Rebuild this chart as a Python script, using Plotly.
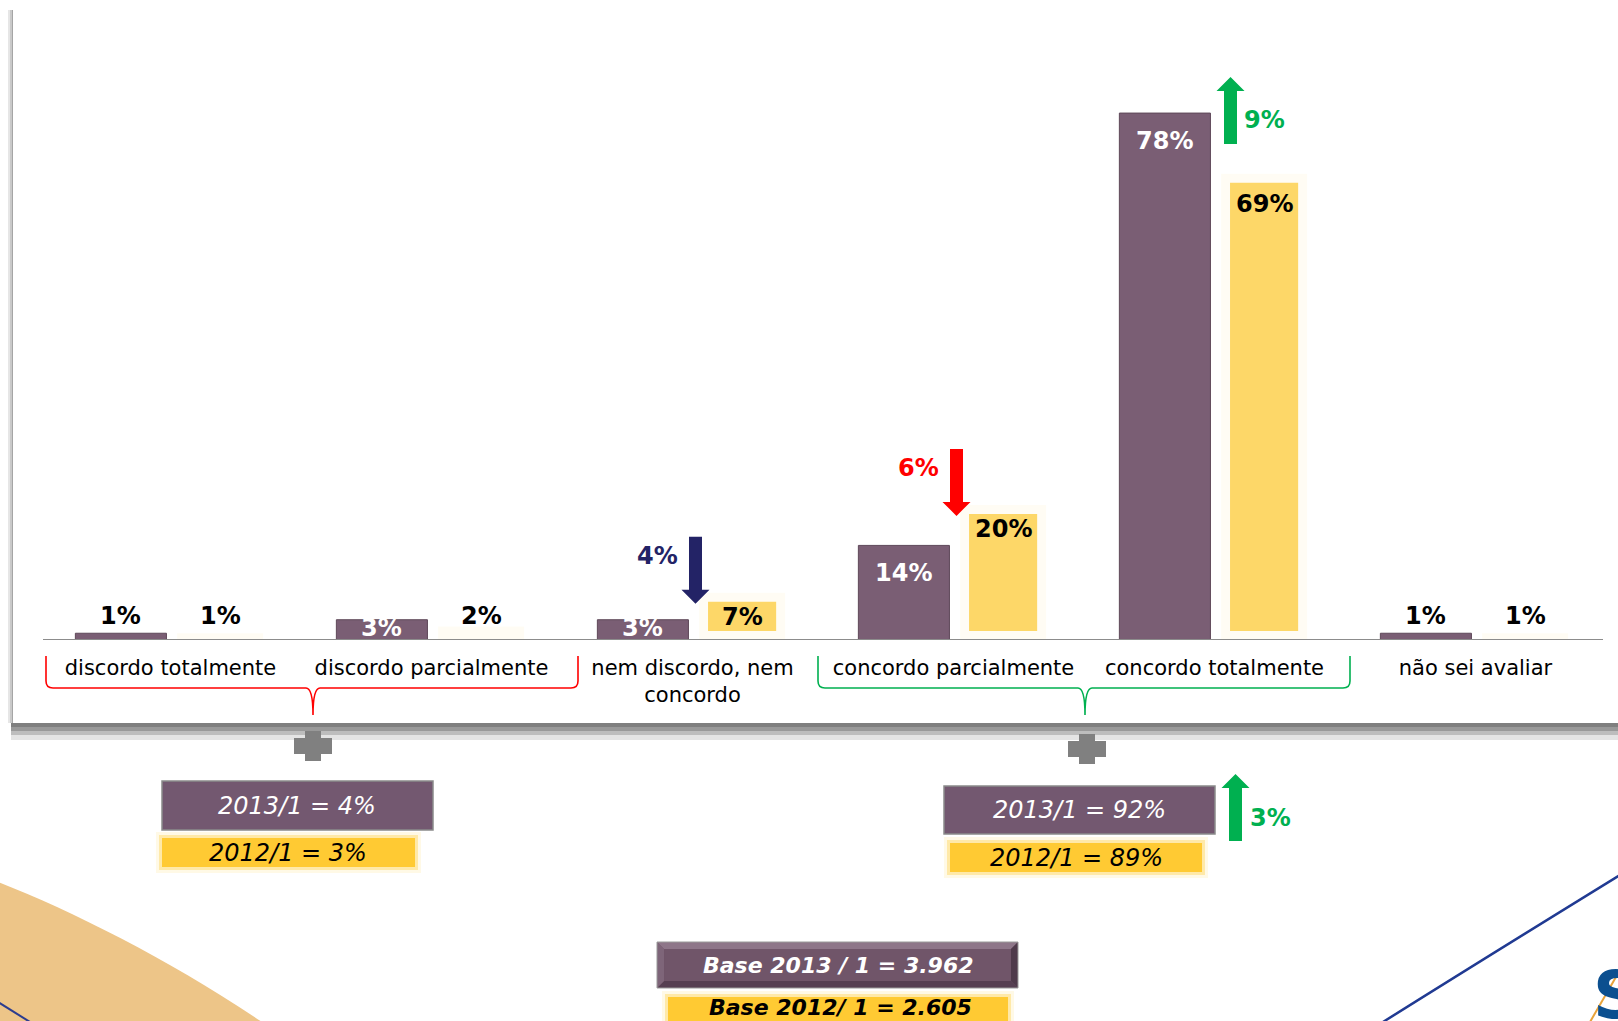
import plotly.graph_objects as go

# ---------------- data ----------------
categories = ["discordo totalmente", "discordo parcialmente", "nem discordo, nem concordo",
              "concordo parcialmente", "concordo totalmente", "não sei avaliar"]
tick_labels = ["discordo totalmente", "discordo parcialmente", "nem discordo, nem<br>concordo",
               "concordo parcialmente", "concordo totalmente", "não sei avaliar"]
pct_2013 = [1, 3, 3, 14, 78, 1]
pct_2012 = [1, 2, 7, 20, 69, 1]
period_2013 = "2013/1"
period_2012 = "2012/1"
base_2013 = "3.962"
base_2012 = "2.605"
disagree_idx = [0, 1]
agree_idx = [3, 4]
arrow_colors = {2: "#232366", 3: "#FF0000", 4: "#00B050"}

# ---------------- style ----------------
PURPLE = "#7A5E74"
PURPLE_BOX = "#735870"
YELLOW = "#FDD768"
YELLOW_BOX = "#FFCA33"
GREEN = "#00B050"
FONT = "DejaVu Sans"
W, H = 1618, 1021
L, R, T, B = 40, 1606, 32, 640
Y_MAX = 90
N = len(categories)
P_OFF = -0.19   # purple bar centre offset (category units)
Y_OFF = 0.19    # yellow bar centre offset
P_W = 0.349
Y_W = 0.33      # includes the soft white edge drawn by the marker line
PX_PER_UNIT = (B - T) / Y_MAX


def xp(px):
    return (px - L) / (R - L)


def yp(py):
    return (B - py) / (B - T)


def cat_px(i, off=0.0):
    return L + (i + 0.5 + off) * (R - L) / N


def val_py(v):
    return B - v * PX_PER_UNIT


def poly(points):
    return "M " + " L ".join(f"{xp(x):.5f},{yp(y):.5f}" for x, y in points) + " Z"


fig = go.Figure()
fig.add_trace(go.Bar(x=categories, y=pct_2013, width=P_W, offset=P_OFF - P_W / 2,
                     marker=dict(color=PURPLE, line=dict(color="#5E4859", width=1)),
                     name=period_2013, hoverinfo="skip"))
fig.add_trace(go.Bar(x=categories, y=pct_2012, width=Y_W, offset=Y_OFF - Y_W / 2,
                     marker=dict(color=YELLOW, line=dict(color="rgba(255,255,255,0.93)", width=18)),
                     name=period_2012, hoverinfo="skip"))

shapes = []
ann = []

# baseline
shapes.append(dict(type="line", xref="paper", yref="y", x0=xp(43), x1=xp(1603), y0=0, y1=0,
                   line=dict(color="#8C8C8C", width=2)))

# value labels
LOW_SHIFT = 17  # centre of small-value labels above a 1% bar
for i, v in enumerate(pct_2013):
    if v >= 10:
        col, shift = "white", -28
    elif v >= 3:
        col, shift = "white", -8
    else:
        col, shift = "black", LOW_SHIFT - (v - 1) * PX_PER_UNIT
    ann.append(dict(x=i + P_OFF, y=v, xref="x", yref="y", text=f"{v}%", showarrow=False,
                    yanchor="middle", yshift=shift,
                    font=dict(family=FONT, size=24, color=col, weight="bold")))
for i, v in enumerate(pct_2012):
    if v >= 30:
        shift = -30
    elif v >= 5:
        shift = -24
    else:
        shift = LOW_SHIFT - (v - 1) * PX_PER_UNIT
    ann.append(dict(x=i + Y_OFF, y=v, xref="x", yref="y", text=f"{v}%", showarrow=False,
                    yanchor="middle", yshift=shift,
                    font=dict(family=FONT, size=24, color="black", weight="bold")))


def arrow(xc, y_tail, y_tip, color, shaft=13, head=28, head_len=14):
    d = 1 if y_tip > y_tail else -1
    hb = y_tip - d * head_len
    pts = [(xc - shaft / 2, y_tail), (xc + shaft / 2, y_tail), (xc + shaft / 2, hb),
           (xc + head / 2, hb), (xc, y_tip), (xc - head / 2, hb), (xc - shaft / 2, hb)]
    shapes.append(dict(type="path", xref="paper", yref="paper", path=poly(pts),
                       fillcolor=color, line=dict(width=0)))


def ptext(x, y, text, color, size, weight="normal", style="normal"):
    ann.append(dict(x=xp(x), y=yp(y), xref="paper", yref="paper", text=text, showarrow=False,
                    xanchor="center", yanchor="middle",
                    font=dict(family=FONT, size=size, color=color, weight=weight, style=style)))


# change arrows
for i, col in arrow_colors.items():
    d = pct_2013[i] - pct_2012[i]
    if d < 0:
        x = cat_px(i) + 3
        tip = val_py(pct_2012[i]) + 11
        tail = tip - 67
        arrow(x, tail, tip, col)
        ptext(x - 38, tail + 19, f"{abs(d)}%", col, 24, "bold")
    else:
        x = cat_px(i) + 16
        tail = val_py(pct_2013[i]) + 31
        tip = tail - 67
        arrow(x, tail, tip, col)
        ptext(x + 34, tip + 43, f"{abs(d)}%", col, 24, "bold")


# braces
def brace(x0, x1, xc, color):
    yt, yh, ytip, r = 656, 688, 715, 7
    path = (f"M {xp(x0)},{yp(yt)} L {xp(x0)},{yp(yh - r)} Q {xp(x0)},{yp(yh)} {xp(x0 + r)},{yp(yh)} "
            f"L {xp(xc - r)},{yp(yh)} Q {xp(xc)},{yp(yh)} {xp(xc)},{yp(ytip)} "
            f"Q {xp(xc)},{yp(yh)} {xp(xc + r)},{yp(yh)} L {xp(x1 - r)},{yp(yh)} "
            f"Q {xp(x1)},{yp(yh)} {xp(x1)},{yp(yh - r)} L {xp(x1)},{yp(yt)}")
    shapes.append(dict(type="path", xref="paper", yref="paper", path=path,
                       line=dict(color=color, width=1.6)))


brace(46, 578, 313, "#FF0000")
brace(818, 1350, 1085, GREEN)

# panel shadow
for (y0, y1, c) in [(723, 727, "#7F7F7F"), (727, 731, "#999999"), (731, 735, "#BDBDBD"), (735, 740, "#E4E4E4")]:
    shapes.append(dict(type="rect", xref="paper", yref="paper", x0=xp(11), x1=xp(W + 5),
                       y0=yp(y1), y1=yp(y0), fillcolor=c, line=dict(width=0)))
for (x0, x1, c) in [(8, 10, "#E6E6E6"), (10, 12, "#C9C9C9"), (12, 13, "#A5A5A5")]:
    shapes.append(dict(type="rect", xref="paper", yref="paper", x0=xp(x0), x1=xp(x1),
                       y0=yp(723), y1=yp(10), fillcolor=c, line=dict(width=0)))


# plus signs
def plus(cx, cy, size=38, th=16, color="#808080"):
    shapes.append(dict(type="rect", xref="paper", yref="paper", x0=xp(cx - size / 2), x1=xp(cx + size / 2),
                       y0=yp(cy + th / 2), y1=yp(cy - th / 2), fillcolor=color, line=dict(width=0)))
    shapes.append(dict(type="rect", xref="paper", yref="paper", x0=xp(cx - th / 2), x1=xp(cx + th / 2),
                       y0=yp(cy + size / 2 - 4), y1=yp(cy - size / 2 + 4), fillcolor=color, line=dict(width=0)))


plus(313, 746)
plus(1087, 749)


def rect(x0, x1, y0, y1, fill, line_color=None, lw=0):
    shapes.append(dict(type="rect", xref="paper", yref="paper", x0=xp(x0), x1=xp(x1),
                       y0=yp(y1), y1=yp(y0), fillcolor=fill,
                       line=dict(color=line_color or fill, width=lw)))


def glow_rect(x0, x1, y0, y1, fill):
    rect(x0 - 6, x1 + 6, y0 - 6, y1 + 6, "rgba(255,202,51,0.12)")
    rect(x0 - 3, x1 + 3, y0 - 3, y1 + 3, "rgba(255,202,51,0.35)")
    rect(x0, x1, y0, y1, fill)


# group summaries
dis13 = sum(pct_2013[i] for i in disagree_idx)
dis12 = sum(pct_2012[i] for i in disagree_idx)
agr13 = sum(pct_2013[i] for i in agree_idx)
agr12 = sum(pct_2012[i] for i in agree_idx)

rect(162, 433, 781, 830, PURPLE_BOX, "#8A8A8A", 1.5)
ptext(297, 806, f"{period_2013} = {dis13}%", "white", 24, style="italic")
glow_rect(162, 415, 838, 867, YELLOW_BOX)
ptext(288, 853, f"{period_2012} = {dis12}%", "black", 24, style="italic")

rect(944, 1215, 786, 834, PURPLE_BOX, "#8A8A8A", 1.5)
ptext(1079, 810, f"{period_2013} = {agr13}%", "white", 24, style="italic")
glow_rect(950, 1202, 843, 872, YELLOW_BOX)
ptext(1076, 858, f"{period_2012} = {agr12}%", "black", 24, style="italic")

dg = agr13 - agr12
arrow(1235.5, 841, 774, GREEN if dg >= 0 else "#FF0000")
ptext(1270, 818, f"{abs(dg)}%", GREEN if dg >= 0 else "#FF0000", 24, "bold")

# base boxes
bx0, bx1, by0, by1, bv = 657, 1018, 942, 988, 7
rect(bx0, bx1, by0, by1, "#705569")
shapes.append(dict(type="path", xref="paper", yref="paper", line=dict(width=0), fillcolor="#8E7689",
                   path=poly([(bx0, by0), (bx1, by0), (bx1 - bv, by0 + bv), (bx0 + bv, by0 + bv)])))
shapes.append(dict(type="path", xref="paper", yref="paper", line=dict(width=0), fillcolor="#563F52",
                   path=poly([(bx0, by1), (bx1, by1), (bx1 - bv, by1 - bv), (bx0 + bv, by1 - bv)])))
shapes.append(dict(type="path", xref="paper", yref="paper", line=dict(width=0), fillcolor="#4F3A4B",
                   path=poly([(bx1, by0), (bx1, by1), (bx1 - bv, by1 - bv), (bx1 - bv, by0 + bv)])))
shapes.append(dict(type="path", xref="paper", yref="paper", line=dict(width=0), fillcolor="#7E6579",
                   path=poly([(bx0, by0), (bx0, by1), (bx0 + bv, by1 - bv), (bx0 + bv, by0 + bv)])))
rect(bx0, bx1, by0, by1, "rgba(0,0,0,0)", "#9A9A9A", 1)
ptext(838, 965, f"Base {period_2013.replace('/', ' / ')} = {base_2013}", "white", 22, "bold", "italic")
glow_rect(668, 1008, 997, 1030, YELLOW_BOX)
ptext(840, 1008, f"Base {period_2012.replace('/', '/ ')} = {base_2012}", "black", 22, "bold", "italic")

# background decorations
shapes.append(dict(type="path", xref="paper", yref="paper", layer="below", fillcolor="#EDC588",
                   line=dict(width=0),
                   path=f"M {xp(-2)},{yp(882)} C {xp(70)},{yp(910)} {xp(170)},{yp(960)} {xp(262)},{yp(1022)} "
                        f"L {xp(-2)},{yp(1022)} Z"))
shapes.append(dict(type="line", xref="paper", yref="paper", x0=xp(-2), y0=yp(1002), x1=xp(30), y1=yp(1022),
                   line=dict(color="#2B3C8F", width=2)))
shapes.append(dict(type="path", xref="paper", yref="paper",
                   path=f"M {xp(1383)},{yp(1022)} Q {xp(1490)},{yp(955)} {xp(1620)},{yp(875)}",
                   line=dict(color="#203A92", width=2.5)))
shapes.append(dict(type="line", xref="paper", yref="paper", x0=xp(1590), y0=yp(1022), x1=xp(1620), y1=yp(970),
                   line=dict(color="#E8A33A", width=2)))
ann.append(dict(x=xp(1591), y=yp(955), xref="paper", yref="paper", text="S", showarrow=False,
                xanchor="left", yanchor="top",
                font=dict(family=FONT, size=66, color="#0B4F8F", weight="bold")))

fig.update_layout(
    width=W, height=H, autosize=False,
    margin=dict(l=L, r=W - R, t=T, b=H - B, pad=0),
    paper_bgcolor="white", plot_bgcolor="rgba(0,0,0,0)",
    barmode="overlay", showlegend=False,
    shapes=shapes, annotations=ann,
    xaxis=dict(type="category", categoryorder="array", categoryarray=categories,
               tickmode="array", tickvals=categories, ticktext=tick_labels,
               range=[-0.5, N - 0.5], showgrid=False, zeroline=False, showline=False, ticks="",
               tickfont=dict(family=FONT, size=21, color="black"), ticklabelstandoff=13,
               fixedrange=True),
    yaxis=dict(range=[0, Y_MAX], visible=False, fixedrange=True),
)

fig.write_html("out.html", config={"displayModeBar": False},
               post_script="document.body.style.margin='0';document.body.style.overflow='hidden';")
